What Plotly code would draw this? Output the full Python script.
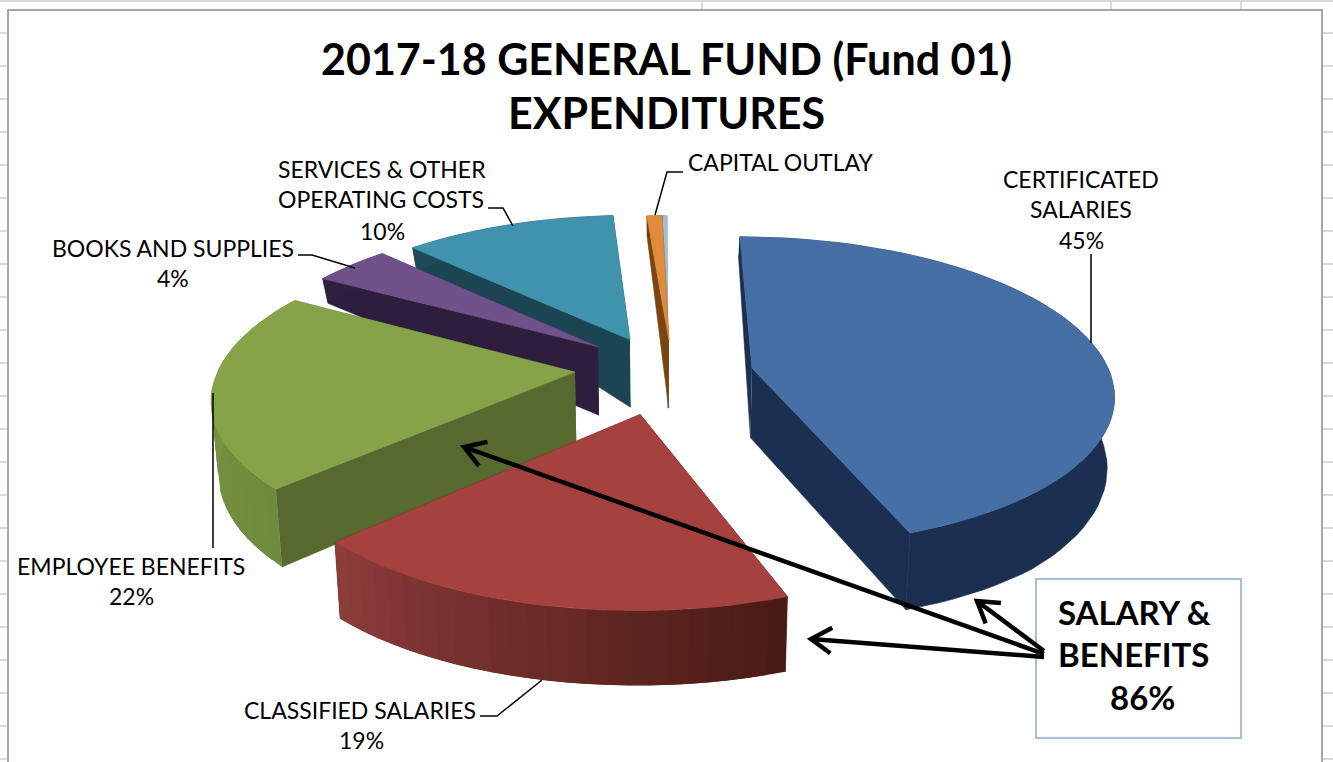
import numpy as np
import plotly.graph_objects as go

# ---- data ----
categories = ["CERTIFICATED SALARIES", "CLASSIFIED SALARIES", "EMPLOYEE BENEFITS",
              "BOOKS AND SUPPLIES", "SERVICES & OTHER OPERATING COSTS", "CAPITAL OUTLAY", "OTHER"]
label_pct = [45, 19, 22, 4, 10, None, None]
# share of the circle each slice occupies as drawn (%)
drawn_share = [44.4, 18.5, 20.55, 4.15, 11.3, 0.8, 0.3]
total_label = 86

# ---- style / view ----
top_col = ["#466FA5", "#A54240", "#86A34A", "#70518C", "#3F93AD", "#E08B3C", "#9CC0E0"]
side_from = ["#1B3050", "#4A1B16", "#6F8A3C", "#30203F", "#1E4A58", "#6E3F10", "#6F93B5"]
side_to = ["#1B3050", "#8C3C39", "#7F9B46", "#30203F", "#1E4A58", "#6E3F10", "#6F93B5"]
radial_col = ["#1B3050", "#5A211C", "#56692F", "#2E1E3E", "#1C4553", "#7A4510", "#6F93B5"]
explode = [(0.2582, -0.02), (-0.0532, -0.3145), (-0.238, -0.047), (-0.178, 0.124),
           (-0.087, 0.1736), (0.0256, 0.17), (0.0225, 0.17)]
draw_order = [6, 5, 4, 3, 2, 0, 1]
CX, CY, RX, A, P = 660.0, 365.0, 355.0, 150.0, 0.15
SHRINK = 0.016


def proj(X, Y):
    s = 1.0 / (1.0 + P * Y)
    return CX + RX * X * s, CY - A * Y * s


def height(Y):
    return np.interp(Y, [-1.3, -0.75, -0.3, 0.17, 0.6, 0.9, 1.2], [75, 78, 72, 68, 25, 22, 20])


def bottom(X, Y):
    sx, sy = proj(X, Y)
    return CX + (sx - CX) * (1 - SHRINK), sy + height(Y)


def mix(c1, c2, t):
    a = [int(c1[i:i + 2], 16) for i in (1, 3, 5)]
    b = [int(c2[i:i + 2], 16) for i in (1, 3, 5)]
    return "rgb(%d,%d,%d)" % tuple(round(a[i] + (b[i] - a[i]) * t) for i in range(3))


fig = go.Figure()


def poly(xs, ys, col, name, lw=0.6):
    fig.add_trace(go.Scatter(x=list(xs), y=list(ys), mode="lines", fill="toself", fillcolor=col,
                             line=dict(color=col, width=lw), hoverinfo="skip",
                             showlegend=False, name=name))


edges = np.concatenate([[0], np.cumsum(drawn_share)]) * 3.6
for i in draw_order:
    t0, t1 = np.radians(edges[i]), np.radians(edges[i + 1])
    ex, ey = explode[i]
    th = np.linspace(t0, t1, max(4, int((edges[i + 1] - edges[i]) / 2.5)))
    X, Y = ex + np.sin(th), ey + np.cos(th)
    tx, ty = proj(X, Y)
    bx, by = bottom(X, Y)
    ax, ay = proj(np.array([ex]), np.array([ey]))
    abx, aby = bottom(np.array([ex]), np.array([ey]))
    # radial walls
    poly([ax[0], tx[0], bx[0], abx[0]], [ay[0], ty[0], by[0], aby[0]], radial_col[i], categories[i])
    poly([ax[0], tx[-1], bx[-1], abx[0]], [ay[0], ty[-1], by[-1], aby[0]], radial_col[i], categories[i])
    # outer wall
    if side_from[i] == side_to[i]:
        poly(np.concatenate([tx, bx[::-1]]), np.concatenate([ty, by[::-1]]), side_from[i], categories[i])
    else:
        # every strip runs on under the next one, so the shading has no seams
        n = len(th)
        for k in range(n - 1):
            c = mix(side_from[i], side_to[i], k / max(1, n - 2))
            e = min(k + 3, n)
            poly(np.concatenate([tx[k:e], bx[k:e][::-1]]), np.concatenate([ty[k:e], by[k:e][::-1]]),
                 c, categories[i], 0)
    # top face
    poly(np.concatenate([ax, tx, ax]), np.concatenate([ay, ty, ay]), top_col[i], categories[i])

shapes = []


def line(pts, color="black", width=1.5):
    path = "M " + " L ".join(f"{x},{y}" for x, y in pts)
    shapes.append(dict(type="path", path=path, xref="x", yref="y",
                       line=dict(color=color, width=width), layer="above"))


# worksheet grid behind the chart
for n in range(1, 24):
    shapes.append(dict(type="line", x0=0, x1=8, y0=33 * n, y1=33 * n, xref="x", yref="y",
                       line=dict(color="#D9D9D9", width=2), layer="below"))
    shapes.append(dict(type="line", x0=1322, x1=1333, y0=33 * n, y1=33 * n, xref="x", yref="y",
                       line=dict(color="#D9D9D9", width=2), layer="below"))
shapes.append(dict(type="line", x0=0, x1=1333, y0=1, y1=1, xref="x", yref="y",
                   line=dict(color="#D9D9D9", width=2), layer="below"))
for gx in (702, 1111, 1241):
    shapes.append(dict(type="line", x0=gx, x1=gx, y0=0, y1=10, xref="x", yref="y",
                       line=dict(color="#D9D9D9", width=2), layer="below"))
# chart frame
line([(8, 770), (8, 10), (1322, 10), (1322, 770)], "#A6A6A6", 2)
# text box
shapes.append(dict(type="rect", x0=1036, y0=579, x1=1241, y1=738, xref="x", yref="y",
                   line=dict(color="#A3BEDF", width=2), fillcolor="white", layer="above"))
# leader lines
line([(1091, 254), (1091, 343)])
line([(683, 172), (667, 172), (655, 215)])
line([(488, 208), (503, 208), (513, 226)])
line([(298, 255), (312, 255), (355, 268)])
line([(213, 393), (213, 548)])
line([(480, 716), (497, 716), (542, 680)])


def arrow(x0, y0, x1, y1, barb=24, spread=0.56):
    line([(x0, y0), (x1, y1)], "black", 4.5)
    ang = np.arctan2(y0 - y1, x0 - x1)
    p1 = (x1 + barb * np.cos(ang + spread), y1 + barb * np.sin(ang + spread))
    p2 = (x1 + barb * np.cos(ang - spread), y1 + barb * np.sin(ang - spread))
    line([p1, (x1, y1), p2], "black", 4.5)


arrow(1044, 654, 464, 447)
arrow(1044, 657, 811, 639)
arrow(1044, 651, 977, 601)

FONT = "Lato"
ann = []


def text(s, x, y, size=23, bold=False, anchor="center"):
    ann.append(dict(text=f"<b>{s}</b>" if bold else s, x=x, y=y, xref="x", yref="y", showarrow=False,
                    xanchor=anchor, yanchor="middle", align="center",
                    font=dict(family=FONT, size=size, color="black")))


text("2017-18 GENERAL FUND (Fund 01)", 666, 58, 43, True)
text("EXPENDITURES", 666, 112, 43, True)
text("CERTIFICATED", 1081, 179)
text("SALARIES", 1081, 209)
text(f"{label_pct[0]}%", 1081, 240)
text("CAPITAL OUTLAY", 686, 162, anchor="left")
text("SERVICES &amp; OTHER", 382, 169)
text("OPERATING COSTS", 381, 199)
text(f"{label_pct[4]}%", 382, 231)
text("BOOKS AND SUPPLIES", 173, 248)
text(f"{label_pct[3]}%", 173, 278)
text("EMPLOYEE BENEFITS", 131, 566)
text(f"{label_pct[2]}%", 131, 596)
text("CLASSIFIED SALARIES", 360, 710)
text(f"{label_pct[1]}%", 361, 740)
text("SALARY &amp;", 1056, 612, 33, True, "left")
text("BENEFITS", 1056, 654, 33, True, "left")
text(f"{total_label}%", 1108, 697, 33, True, "left")

fig.update_layout(
    width=1333, height=762, margin=dict(l=0, r=0, t=0, b=0),
    paper_bgcolor="white", plot_bgcolor="white", showlegend=False,
    xaxis=dict(range=[0, 1333], visible=False, fixedrange=True),
    yaxis=dict(range=[762, 0], visible=False, fixedrange=True),
    shapes=shapes, annotations=ann,
)
fig.write_html("out.html", config={"displayModeBar": False},
               post_script="document.body.style.margin='0';")
